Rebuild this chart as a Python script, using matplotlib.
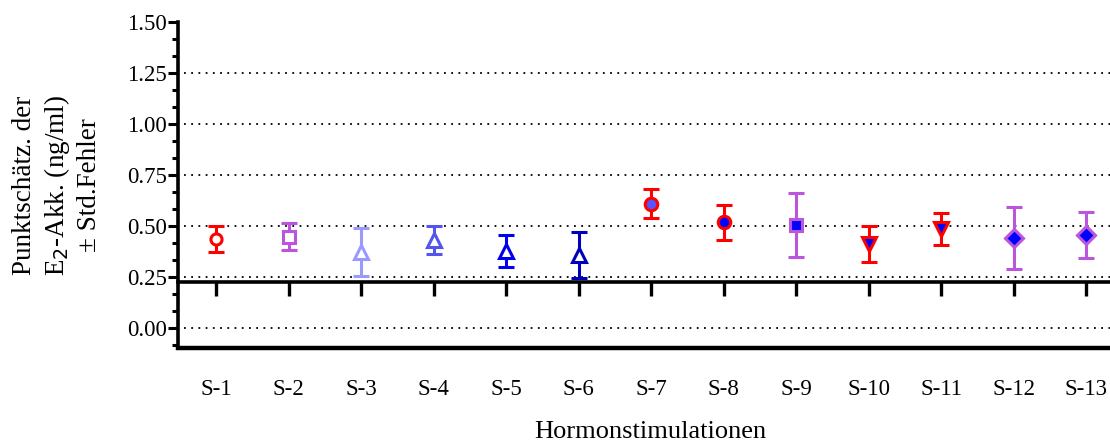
import matplotlib.pyplot as plt
from matplotlib.ticker import MultipleLocator

# data
groups = ['S-1', 'S-2', 'S-3', 'S-4', 'S-5', 'S-6', 'S-7',
          'S-8', 'S-9', 'S-10', 'S-11', 'S-12', 'S-13']
means = [0.435, 0.446, 0.372, 0.43, 0.377, 0.358, 0.608,
         0.516, 0.502, 0.41, 0.484, 0.438, 0.455]
errors = [0.064, 0.067, 0.117, 0.07, 0.08, 0.113, 0.072,
          0.086, 0.157, 0.087, 0.08, 0.152, 0.113]

# styling per group
red = '#FF0000'
purple = '#BB55DD'
edge_colors = [red, purple, '#9999FF', '#5555EE', '#0000EE', '#0000BB', red,
               red, purple, red, red, purple, purple]
face_colors = ['white', 'white', 'white', 'white', 'white', 'white', '#5555FF',
               '#0000FF', '#0000FF', '#0000FF', '#0000FF', '#0000FF', '#0000FF']
markers = ['o', 's', '^', '^', '^', '^', 'o', 'o', 's', 'v', 'v', 'D', 'D']
msizes = [8, 8, 10, 10, 10, 10, 9, 9, 9, 10, 10, 9, 9]

plt.rcParams['font.family'] = ['Liberation Serif', 'DejaVu Serif']

fig = plt.figure(figsize=(11.1, 4.45), dpi=100)
ax = fig.add_axes([178 / 1110, (445 - 348) / 445, 1 - 178 / 1110, (348 - 22) / 445])

xs = list(range(1, len(groups) + 1))
for x, m, e, ec, fc, mk, ms in zip(xs, means, errors, edge_colors, face_colors, markers, msizes):
  ax.errorbar(x, m, yerr=e, fmt=mk, color=ec, mec=ec, mfc=fc, ms=ms, mew=2.2,
              elinewidth=2.2, capsize=5.5, capthick=2.4, zorder=3)

ax.set_xlim(0.475, 13.33)
ax.set_ylim(-0.1, 1.5)

# dotted grid
for g in [0.0, 0.25, 0.5, 0.75, 1.0, 1.25]:
  ax.axhline(g, xmin=0.006, color='black', lw=1.3, ls=(0, (1, 3)), zorder=1)

ax.spines['top'].set_visible(False)
ax.spines['right'].set_visible(False)
ax.spines['left'].set_linewidth(2.6)
ax.spines['bottom'].set_linewidth(2.6)
ax.spines['bottom'].set_position(('data', 0.225))
ax.axhline(-0.1, color='black', lw=3.2, clip_on=False, zorder=4)

ax.set_yticks([0.0, 0.25, 0.5, 0.75, 1.0, 1.25, 1.5])
ax.set_yticklabels(['0.00', '0.25', '0.50', '0.75', '1.00', '1.25', '1.50'])
ax.yaxis.set_minor_locator(MultipleLocator(0.25 / 3))
ax.tick_params(axis='y', which='major', length=7, width=2.2, labelsize=16.5, pad=1)
ax.tick_params(axis='y', which='minor', length=4, width=2.2)

ax.set_xticks(xs)
ax.set_xticklabels(groups)
ax.tick_params(axis='x', which='major', length=10, width=2.4, labelsize=16.5, pad=60)

fig.text(57 / 1110, 1 - 185 / 445, 'Punktschätz. der\nE$_2$-Akk. (ng/ml)\n± Std.Fehler',
         rotation=90, ha='center', va='center', multialignment='center',
         fontsize=19.5, linespacing=1.25)
fig.text(650 / 1110, 1 - 438 / 445, 'Hormonstimulationen', ha='center', va='baseline', fontsize=19)

fig.savefig('out.png', dpi=100)
